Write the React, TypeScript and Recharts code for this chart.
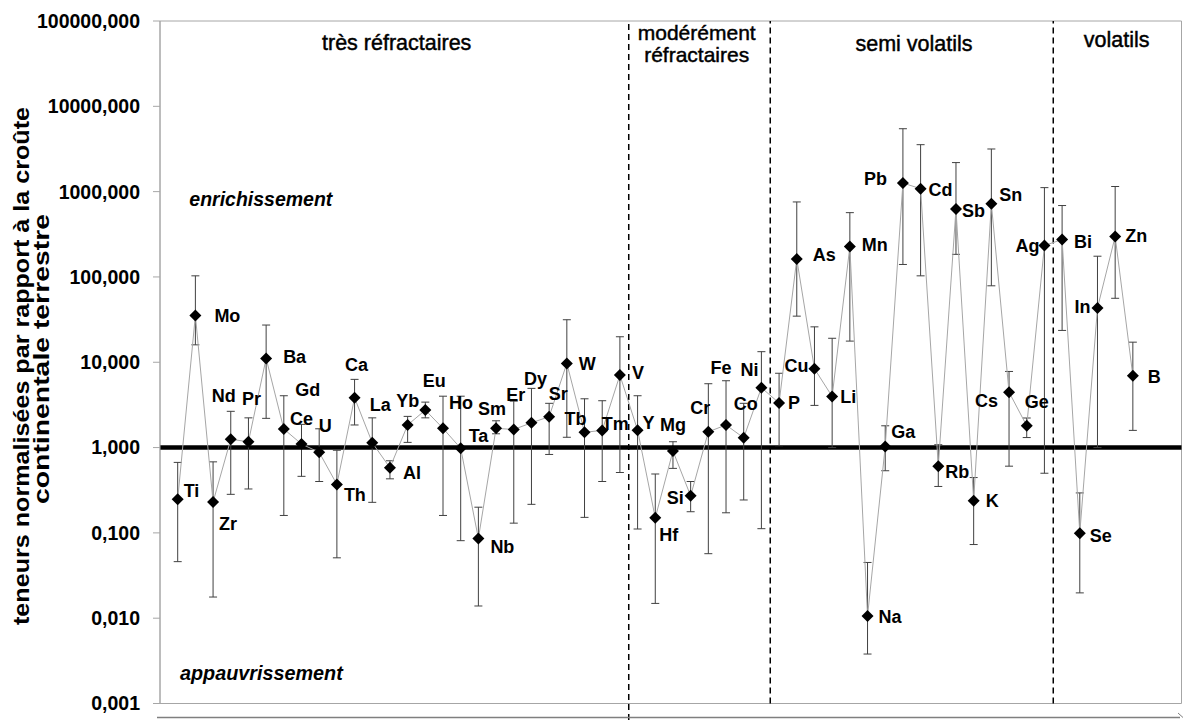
import { LineChart, Line, XAxis, YAxis, ErrorBar, ReferenceLine, ReferenceArea, LabelList } from "recharts";

const FONT = "'Liberation Sans', Arial, sans-serif";

const elements = [
  "Ti", "Mo", "Zr", "Nd", "Pr", "Ba", "Gd", "Ce", "U", "Th", "Ca", "La", "Al", "Yb", "Eu", "Ho", "Ta", "Nb",
  "Sm", "Er", "Dy", "Sr", "W", "Tb", "Tm", "V", "Y", "Hf", "Mg", "Si", "Cr", "Fe", "Co", "Ni",
  "P", "As", "Cu", "Li", "Mn", "Na", "Ga", "Pb", "Cd", "Rb", "Sb", "K", "Sn", "Cs", "Ge", "Ag",
  "Bi", "Se", "In", "Zn", "B",
];

// mean normalised content
const values = [
  0.247, 35.4, 0.23, 1.25, 1.17, 11.1, 1.65, 1.1, 0.88, 0.37, 3.83, 1.14, 0.58, 1.84, 2.75, 1.68, 0.98, 0.086,
  1.68, 1.63, 1.95, 2.3, 9.7, 1.51, 1.59, 7.07, 1.6, 0.15, 0.91, 0.272, 1.53, 1.84, 1.3, 5.03,
  3.33, 162, 8.4, 3.97, 227, 0.0106, 1.03, 1262, 1082, 0.605, 625, 0.238, 721, 4.46, 1.8, 233,
  275, 0.099, 43.3, 298, 6.94,
];

// lower end of the error bar
const lowBounds = [
  0.046, 16, 0.0177, 0.283, 0.327, 2.2, 0.16, 0.46, 0.4, 0.051, 1.84, 0.228, 0.43, 1.15, 2.23, 0.16, 0.081, 0.0139,
  1.45, 0.13, 0.216, 0.83, 1.32, 0.152, 0.4, 0.51, 0.111, 0.0149, 0.57, 0.177, 0.057, 0.172, 0.243, 0.112,
  1.05, 34.7, 3.12, 1.0, 17.7, 0.0038, 0.535, 140, 103, 0.35, 184, 0.073, 78.7, 0.605, 1.31, 0.5,
  23.6, 0.0198, 1.0, 56.2, 1.59,
];

// upper end of the error bar
const highBounds = [
  0.67, 103, 0.68, 2.66, 2.23, 27.3, 4.05, 1.87, 1.66, 0.93, 6.3, 2.23, 0.7, 2.32, 3.41, 4.0, 4.0, 0.2,
  2.06, 3.5, 4.94, 3.3, 31.5, 3.73, 3.54, 19.9, 4.05, 0.49, 1.17, 0.4, 5.6, 6.07, 3.3, 13.3,
  7.43, 757, 26, 19.1, 567, 0.045, 1.8, 5460, 3550, 1.08, 2190, 0.445, 3160, 7.8, 2.22, 1114,
  687, 0.294, 175, 1148, 17.2,
];

const yTicks = [0.001, 0.01, 0.1, 1, 10, 100, 1000, 10000, 100000];
const groupBreaks = [25.5, 33.5, 49.5];

const data = elements.map((el, i) => ({
  i,
  el,
  v: values[i],
  err: [values[i] - lowBounds[i], highBounds[i] - values[i]],
}));

// where each element label sits relative to its marker
const labelPos: Record<string, [number, number, "start" | "middle" | "end"]> = {
  Ti: [6, -9, "start"], Mo: [19, 0, "start"], Zr: [6, 21, "start"], Nd: [-7, -44, "middle"],
  Pr: [3, -43, "middle"], Ba: [17, -2, "start"], Gd: [24, -40, "middle"], Ce: [0, -26, "middle"],
  U: [6, -27, "middle"], Th: [7, 10, "start"], Ca: [2, -33, "middle"], La: [8, -38, "middle"],
  Al: [13, 5, "start"], Yb: [0, -24, "middle"], Eu: [9, -30, "middle"], Ho: [6, -26, "start"],
  Ta: [8, -13, "start"], Nb: [12, 8, "start"], Sm: [-4, -20, "middle"], Er: [2, -35, "middle"],
  Dy: [4, -44, "middle"], Sr: [9, -23, "middle"], W: [12, 0, "start"], Tb: [-9, -14, "middle"],
  Tm: [13, -7, "middle"], V: [12, -3, "start"], Y: [5, -8, "start"], Hf: [4, 17, "start"],
  Mg: [0, -27, "middle"], Si: [-7, 2, "end"], Cr: [-8, -24, "middle"], Fe: [-5, -57, "middle"],
  Co: [2, -34, "middle"], Ni: [-12, -18, "middle"], P: [9, 0, "start"], As: [16, -5, "start"],
  Cu: [-6, -3, "end"], Li: [8, 0, "start"], Mn: [12, -2, "start"], Na: [11, 0, "start"],
  Ga: [6, -15, "start"], Pb: [-16, -5, "end"], Cd: [8, 1, "start"], Rb: [7, 5, "start"],
  Sb: [6, 1, "start"], K: [12, 0, "start"], Sn: [8, -9, "start"], Cs: [-11, 8, "end"],
  Ge: [10, -24, "middle"], Ag: [-5, 0, "end"], Bi: [12, 2, "start"], Se: [10, 2, "start"],
  In: [-7, -1, "end"], Zn: [10, -1, "start"], B: [15, 1, "start"],
};

const fmt = (v: number) => v.toFixed(3).replace(".", ",");

const Diamond = (props: any) => {
  const { cx, cy, index } = props;
  if (cx == null || cy == null) return null;
  return <path key={index} d={`M${cx},${cy - 6}L${cx + 6},${cy}L${cx},${cy + 6}L${cx - 6},${cy}Z`} fill="#000" />;
};

const ElementLabel = (props: any) => {
  const { x, y, value } = props;
  const [dx, dy, anchor] = labelPos[value] ?? [8, 0, "start"];
  return (
    <text x={x + dx} y={y + dy + 6.5} textAnchor={anchor} fontSize={18} fontWeight="bold" fontFamily={FONT} fill="#000">
      {value}
    </text>
  );
};

export default function App() {
  return (
    <div style={{ position: "absolute", left: 0, top: 0, width: 1186, height: 720, background: "#fff" }}>
      <LineChart width={1186} height={720} data={data} margin={{ top: 21, right: 4.5, bottom: 16.5, left: 0 }}>
        <XAxis type="number" dataKey="i" domain={[-1, 56.75]} hide allowDataOverflow />
        <YAxis
          scale="log"
          domain={[0.001, 100000]}
          ticks={yTicks}
          interval={0}
          allowDataOverflow
          width={160}
          axisLine={{ stroke: "#a6a6a6" }}
          tickLine={{ stroke: "#a6a6a6" }}
          tickSize={7}
          tickMargin={13}
          tickFormatter={fmt}
          tick={{ fontSize: 19.5, fontWeight: "bold", fill: "#000", fontFamily: FONT }}
        />
        <ReferenceArea x1={-1} x2={56.75} y1={0.001} y2={100000} fill="none" stroke="#a6a6a6" ifOverflow="visible" />
        {groupBreaks.map((b, k) => (
          <ReferenceLine
            key={b}
            segment={[{ x: b, y: k === 0 ? 0.00064 : 0.001 }, { x: b, y: 100000 }]}
            stroke="#000"
            strokeWidth={1.5}
            strokeDasharray="6 4"
            ifOverflow="visible"
          />
        ))}
        <ReferenceLine y={1} stroke="#000" strokeWidth={4.5} />
        <Line
          dataKey="v"
          stroke="#a6a6a6"
          strokeWidth={1}
          dot={<Diamond />}
          activeDot={false}
          isAnimationActive={false}
        >
          <ErrorBar dataKey="err" direction="y" width={4} stroke="#404040" strokeWidth={1} />
          <LabelList dataKey="el" content={<ElementLabel />} />
        </Line>
      </LineChart>
      <svg width={1186} height={720} style={{ position: "absolute", left: 0, top: 0, pointerEvents: "none" }} fontFamily={FONT}>
        <text transform="translate(29,366) rotate(-90)" textAnchor="middle" fontSize={22} fontWeight="bold" textLength={518} lengthAdjust="spacingAndGlyphs">
          teneurs normalisées par rapport à la croûte
        </text>
        <text transform="translate(49,359) rotate(-90)" textAnchor="middle" fontSize={22} fontWeight="bold" textLength={290} lengthAdjust="spacingAndGlyphs">
          continentale terrestre
        </text>
        <g fill="#000" stroke="#000" strokeWidth={0.45}>
          <text x={396.7} y={50} textAnchor="middle" fontSize={21.5}>très réfractaires</text>
          <text x={696.7} y={40} textAnchor="middle" fontSize={21}>modérément</text>
          <text x={696.7} y={61.7} textAnchor="middle" fontSize={21}>réfractaires</text>
          <text x={914} y={51} textAnchor="middle" fontSize={21.5}>semi volatils</text>
          <text x={1116.7} y={46.7} textAnchor="middle" fontSize={21.5}>volatils</text>
        </g>
        <text x={189.3} y={206} fontSize={19.5} fontWeight="bold" fontStyle="italic">enrichissement</text>
        <text x={180} y={680} fontSize={19.8} fontWeight="bold" fontStyle="italic">appauvrissement</text>
        <line x1={157} y1={717.5} x2={1180} y2={717.5} stroke="#7f7f7f" strokeWidth={1.5} />
        <line x1={1178} y1={713} x2={1183} y2={717.5} stroke="#7f7f7f" strokeWidth={1} />
      </svg>
    </div>
  );
}
